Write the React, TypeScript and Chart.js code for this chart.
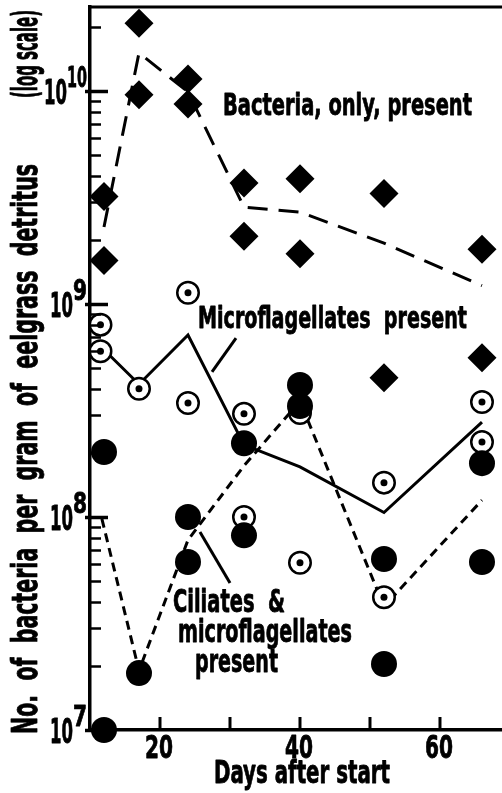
import React, { useEffect, useRef } from 'react';
import { Chart, registerables } from 'chart.js';

Chart.register(...registerables);

const FONT = '"Liberation Sans Narrow", "DejaVu Sans Condensed", "Liberation Sans", Arial, sans-serif';

// ---- axis ranges ----
const dayMin = 10;
const dayMax = 68.86;
const countMin = 1e7;
const countMax = 2.48e10;

// ---- tick definitions ----
const xTickDays = [20, 30, 40, 50, 60];
const xLabelDays = [20, 40, 60];
const xLabels = ['20', '40', '60'];
const yDecadeExponents = [7, 8, 9, 10];

// ---- Bacteria only present (diamonds + long-dash mean) ----
const bacteriaDays = [12, 12, 17, 17, 24, 24, 32, 32, 40, 40, 52, 52, 66, 66];
const bacteriaCounts = [3.2e9, 1.6e9, 2.08e10, 9.6e9, 1.14e10, 8.7e9, 3.7e9, 2.08e9, 3.87e9, 1.72e9, 3.3e9, 4.5e8, 1.81e9, 5.6e8];
const bacteriaMeanDays = [12, 17, 24, 32, 40, 52, 66];
const bacteriaMean = [2.3e9, 1.51e10, 9.9e9, 2.85e9, 2.7e9, 1.93e9, 1.22e9];

// ---- Microflagellates present (dotted circles + solid mean) ----
const microDays = [11.5, 11.5, 17, 24, 24, 32, 32, 40, 40, 52, 52, 66, 66];
const microCounts = [8.0e8, 6.0e8, 4.0e8, 1.13e9, 3.43e8, 3.05e8, 1.0e8, 3.08e8, 6.1e7, 1.45e8, 4.2e7, 3.47e8, 2.25e8];
const microMeanDays = [12, 17, 24, 32, 40, 52, 66];
const microMean = [6.1e8, 4.2e8, 7.15e8, 2.18e8, 1.72e8, 1.05e8, 2.79e8];

// ---- Ciliates & microflagellates present (filled circles + short-dash mean) ----
const ciliateDays = [12, 12, 17, 24, 24, 32, 32, 40, 40, 52, 52, 66, 66];
const ciliateCounts = [2.02e8, 1.0e7, 1.85e7, 1.0e8, 6.15e7, 2.22e8, 8.2e7, 4.17e8, 3.32e8, 6.35e7, 2.04e7, 1.79e8, 6.15e7];
const ciliateMeanDays = [11.7, 17, 24, 32, 40, 52, 66];
const ciliateMean = [9.8e7, 1.9e7, 7.8e7, 1.74e8, 3.5e8, 3.8e7, 1.2e8];

// ---- annotation leader lines, in data space: [day1, count1, day2, count2] ----
const microLeader = [30.86, 6.92e8, 27.43, 4.8e8];
const ciliateLeader = [25.71, 8.5e7, 30.0, 4.9e7];

function drawFit(ctx: CanvasRenderingContext2D, text: string, left: number, baseline: number, size: number, width: number, heavy = 0.8) {
  ctx.save();
  ctx.font = `bold ${size}px ${FONT}`;
  ctx.textAlign = 'left';
  ctx.textBaseline = 'alphabetic';
  const w = ctx.measureText(text).width || 1;
  ctx.translate(left, baseline);
  ctx.scale(width / w, 1);
  ctx.fillText(text, 0, 0);
  if (heavy > 0) {
    ctx.lineWidth = heavy;
    ctx.lineJoin = 'round';
    ctx.strokeText(text, 0, 0);
  }
  ctx.restore();
}

const decorPlugin = {
  id: 'decor',
  beforeDraw(chart: any) {
    const ctx = chart.ctx;
    ctx.save();
    ctx.fillStyle = '#fff';
    ctx.fillRect(0, 0, chart.width, chart.height);
    ctx.restore();
  },
  afterDraw(chart: any) {
    const ctx: CanvasRenderingContext2D = chart.ctx;
    const xs = chart.scales.x;
    const ys = chart.scales.y;
    const ca = chart.chartArea;
    ctx.save();
    ctx.fillStyle = '#000';
    ctx.strokeStyle = '#000';
    ctx.lineCap = 'butt';

    // top frame line
    ctx.lineWidth = 3;
    ctx.beginPath();
    ctx.moveTo(ca.left - 1.75, ca.top);
    ctx.lineTo(ca.right, ca.top);
    ctx.stroke();

    // y ticks (major + minor), drawn inward
    for (const e of yDecadeExponents) {
      for (let m = 1; m <= 9; m++) {
        const v = m * Math.pow(10, e);
        if (v > countMax || v < countMin) continue;
        const py = Math.round(ys.getPixelForValue(v)) + 0.5;
        ctx.beginPath();
        if (m === 1) {
          ctx.lineWidth = 3.5;
          ctx.moveTo(ca.left - 5, py);
          ctx.lineTo(ca.left + 18, py);
        } else {
          ctx.lineWidth = 2.5;
          ctx.moveTo(ca.left, py);
          ctx.lineTo(ca.left + 11, py);
        }
        ctx.stroke();
      }
    }

    // x ticks, inward
    ctx.lineWidth = 3;
    for (const d of xTickDays) {
      const px = xs.getPixelForValue(d);
      ctx.beginPath();
      ctx.moveTo(px, ca.bottom);
      ctx.lineTo(px, ca.bottom - 13);
      ctx.stroke();
    }

    // x tick labels
    xLabelDays.forEach((d, i) => {
      const px = xs.getPixelForValue(d);
      drawFit(ctx, xLabels[i], px - 15, ca.bottom + 28, 32, 28);
    });

    // y tick labels: 10 with superscript exponent
    for (const e of yDecadeExponents) {
      const py = ys.getPixelForValue(Math.pow(10, e));
      const sup = String(e);
      const supW = sup.length > 1 ? 20 : 14;
      const supLeft = 87 - supW;
      drawFit(ctx, sup, supLeft, py - 4, 29, supW);
      drawFit(ctx, '10', supLeft - 23, py + 13, 34, 23);
    }

    // axis titles
    drawFit(ctx, 'Days after start', 214, 783, 32, 176);
    ctx.save();
    ctx.translate(37, 734);
    ctx.rotate(-Math.PI / 2);
    drawFit(ctx, 'No.  of  bacteria  per  gram  of  eelgrass  detritus', 0, 0, 35, 570);
    drawFit(ctx, '(log scale)', 636, 0, 35, 88);
    ctx.restore();

    // series annotations
    drawFit(ctx, 'Bacteria, only, present', 223, 115, 31, 249);
    drawFit(ctx, 'Microflagellates  present', 198, 328, 31, 269);
    drawFit(ctx, 'Ciliates  &', 173, 612, 32, 112);
    drawFit(ctx, 'microflagellates', 178, 642, 32, 174);
    drawFit(ctx, 'present', 195, 672, 32, 83);

    // leader lines
    ctx.lineWidth = 3;
    for (const L of [microLeader, ciliateLeader]) {
      ctx.beginPath();
      ctx.moveTo(xs.getPixelForValue(L[0]), ys.getPixelForValue(L[1]));
      ctx.lineTo(xs.getPixelForValue(L[2]), ys.getPixelForValue(L[3]));
      ctx.stroke();
    }
    ctx.restore();
  },
};

const pts = (xs: number[], ys: number[]) => xs.map((x, i) => ({ x, y: ys[i] }));

export default function App() {
  const ref = useRef<HTMLCanvasElement>(null);
  useEffect(() => {
    const canvas = ref.current;
    if (!canvas) return;
    const lineBase = {
      showLine: true,
      pointRadius: 0,
      pointHoverRadius: 0,
      borderColor: '#000',
      borderWidth: 3,
      tension: 0,
      fill: false,
      clip: false as any,
      borderCapStyle: 'butt' as const,
    };
    const chart = new Chart(canvas, {
      type: 'scatter',
      data: {
        datasets: [
          { ...lineBase, label: 'Bacteria mean', data: pts(bacteriaMeanDays, bacteriaMean), borderDash: [20, 11], order: 10 },
          { ...lineBase, label: 'Microflagellates mean', data: pts(microMeanDays, microMean), order: 10 },
          { ...lineBase, label: 'Ciliates mean', data: pts(ciliateMeanDays, ciliateMean), borderDash: [9, 6], order: 10 },
          {
            label: 'Microflagellates present',
            data: pts(microDays, microCounts),
            pointStyle: 'circle',
            pointRadius: 10.75,
            pointBorderWidth: 2.5,
            pointBackgroundColor: '#fff',
            pointBorderColor: '#000',
            clip: false as any,
            order: 6,
          },
          {
            label: 'Microflagellates dot',
            data: pts(microDays, microCounts),
            pointStyle: 'circle',
            pointRadius: 3.5,
            pointBorderWidth: 0,
            pointBackgroundColor: '#000',
            clip: false as any,
            order: 5,
          },
          {
            label: 'Ciliates & microflagellates present',
            data: pts(ciliateDays, ciliateCounts),
            pointStyle: 'circle',
            pointRadius: 13,
            pointBorderWidth: 0,
            pointBackgroundColor: '#000',
            clip: false as any,
            order: 4,
          },
          {
            label: 'Bacteria, only, present',
            data: pts(bacteriaDays, bacteriaCounts),
            pointStyle: 'rectRot',
            pointRadius: 14.5,
            pointBorderWidth: 0,
            pointBackgroundColor: '#000',
            clip: false as any,
            order: 3,
          },
        ],
      },
      options: {
        animation: false,
        responsive: false,
        devicePixelRatio: 1,
        events: [],
        layout: { autoPadding: false, padding: { left: 90, top: 7, right: 0, bottom: 63 } },
        plugins: { legend: { display: false }, tooltip: { enabled: false }, title: { display: false } },
        scales: {
          x: {
            type: 'linear',
            position: 'bottom',
            min: dayMin,
            max: dayMax,
            grid: { display: false, drawTicks: false },
            ticks: { display: false },
            border: { display: true, color: '#000', width: 3.5 },
            afterFit: (s: any) => { s.height = 0; },
          },
          y: {
            type: 'logarithmic',
            position: 'left',
            min: countMin,
            max: countMax,
            grid: { display: false, drawTicks: false },
            ticks: { display: false },
            border: { display: true, color: '#000', width: 3.5 },
            afterFit: (s: any) => { s.width = 0; },
          },
        },
      } as any,
      plugins: [decorPlugin],
    });
    return () => chart.destroy();
  }, []);
  return (
    <div style={{ position: 'fixed', left: 0, top: 0, width: 502, height: 793, background: '#fff' }}>
      <canvas ref={ref} width={502} height={793} style={{ display: 'block', width: 502, height: 793 }} />
    </div>
  );
}
